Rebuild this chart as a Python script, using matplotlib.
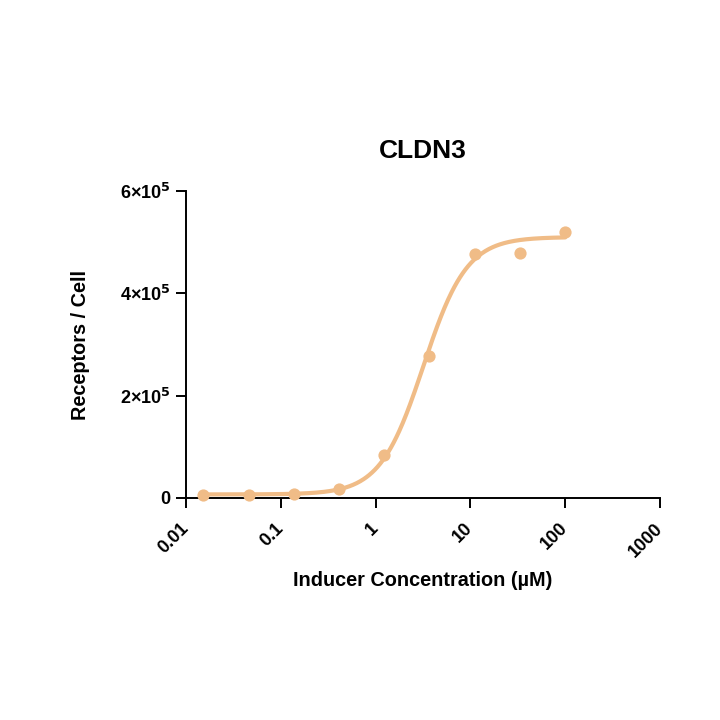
import numpy as np
import matplotlib
matplotlib.use("Agg")
import matplotlib.pyplot as plt
from matplotlib.ticker import FixedLocator

plt.rcParams['font.family'] = ['Liberation Sans', 'DejaVu Sans']
plt.rcParams['font.weight'] = 'bold'
plt.rcParams['mathtext.default'] = 'bf'

# Data
concentration = [0.0152, 0.0457, 0.137, 0.412, 1.23, 3.70, 11.1, 33.3, 100.0]
receptors = [6600, 6600, 8600, 18400, 85000, 278000, 477000, 479000, 519000]

# 4PL fit parameters
fit_bottom = 7000
fit_top = 510000
fit_ec50 = 3.2
fit_hill = 1.9

x_ticks = [0.01, 0.1, 1, 10, 100, 1000]
x_tick_labels = ['0.01', '0.1', '1', '10', '100', '1000']
y_ticks = [0, 2e5, 4e5, 6e5]
y_tick_labels = ['0', r'2×10$^{5}$', r'4×10$^{5}$', r'6×10$^{5}$']

color = '#F0BC87'

fig = plt.figure(figsize=(7.2, 7.2), dpi=100)
ax = fig.add_axes([186/720, 1-498/720, (660-186)/720, (498-191)/720])

xs = np.logspace(np.log10(min(concentration)), np.log10(max(concentration)), 400)
ys = fit_bottom + (fit_top - fit_bottom) / (1 + (fit_ec50 / xs) ** fit_hill)
ax.plot(xs, ys, color=color, lw=3, solid_capstyle='round', zorder=2)
ax.plot(concentration, receptors, 'o', color=color, ms=8.8, mec='none', zorder=3, clip_on=False)

ax.set_xscale('log')
ax.set_xlim(0.01, 1000)
ax.set_ylim(0, 6e5)
ax.xaxis.set_major_locator(FixedLocator(x_ticks))
ax.xaxis.set_minor_locator(FixedLocator([]))
ax.set_xticks(x_ticks)
ax.set_xticklabels(x_tick_labels, rotation=45, ha='right', va='center',
                   rotation_mode='anchor')
ax.set_yticks(y_ticks)
ax.set_yticklabels(y_tick_labels)

for s in ['top', 'right']:
    ax.spines[s].set_visible(False)
for s in ['left', 'bottom']:
    ax.spines[s].set_linewidth(1.4)
ax.tick_params(axis='both', which='major', width=1.4, length=7, labelsize=13, pad=4)
ax.tick_params(axis='x', pad=13)
for lab in ax.get_xticklabels() + ax.get_yticklabels():
    lab.set_fontweight('bold')

ax.set_title('CLDN3', fontsize=19, fontweight='bold', pad=24)
ax.set_xlabel('Inducer Concentration (µM)', fontsize=14.3, fontweight='bold', labelpad=8)
ax.set_ylabel('Receptors / Cell', fontsize=14.3, fontweight='bold', labelpad=22)

fig.savefig('out.png', dpi=100)
